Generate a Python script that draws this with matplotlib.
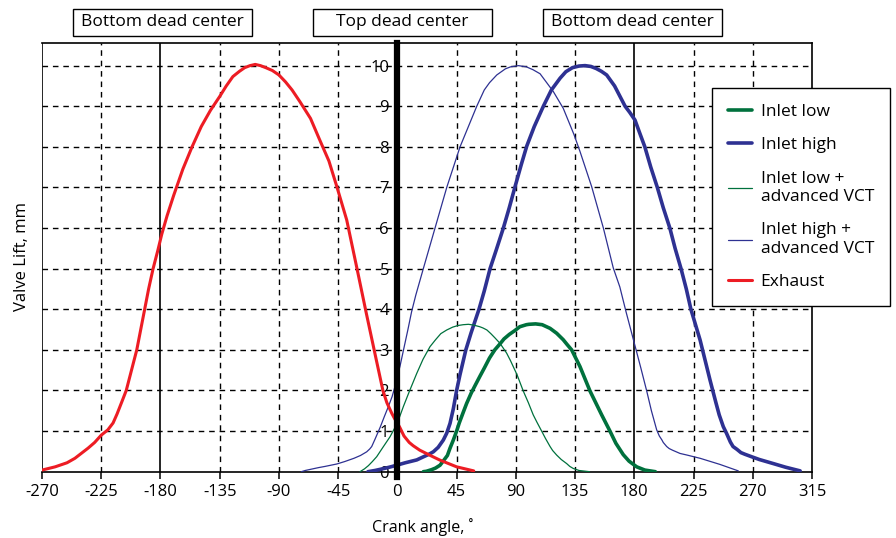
import matplotlib
matplotlib.use("Agg")
import matplotlib.pyplot as plt
from matplotlib.patches import Rectangle

plt.rcParams['font.family'] = ['Open Sans', 'DejaVu Sans']

# ---------------- data ----------------
exhaust_x = [-270, -260, -251, -245, -235, -230, -225, -220, -216, -213, -209, -206, -202,
             -198, -195, -192, -189, -185.6, -182, -179, -175, -170, -163, -156, -149, -142,
             -135, -130, -125, -120, -116, -112, -108, -104, -100, -95, -90, -85, -80, -74,
             -66, -59, -52, -46, -38.5, -31, -23.6, -16, -11, -8, -4.3, -2, 0, 2, 5, 9, 12,
             17, 25, 32, 45, 58]
exhaust_y = [0.04, 0.12, 0.22, 0.33, 0.58, 0.72, 0.9, 1.03, 1.2, 1.42, 1.75, 2.0, 2.5,
             3.0, 3.5, 4.0, 4.5, 5.0, 5.45, 5.85, 6.3, 6.8, 7.45, 8.0, 8.5, 8.9,
             9.24, 9.5, 9.73, 9.86, 9.95, 10.0, 10.03, 10.0, 9.95, 9.88, 9.77, 9.6, 9.4, 9.11,
             8.7, 8.17, 7.65, 7.02, 6.2, 5.05, 3.9, 2.75, 2.0, 1.7, 1.44, 1.3, 1.2, 1.08,
             0.88, 0.72, 0.64, 0.53, 0.4, 0.29, 0.12, 0.02]

high_vct_x = [-73, -70, -60, -55, -46, -40, -33, -28, -23.3, -21, -19.5, -17, -15, -13, -10,
              -6.9, -4, -1.8, 0, 2, 5, 8, 10.8, 14, 19.7, 28.6, 37.5, 47.6, 60.3, 66, 70,
              75.5, 82, 86, 92, 98, 103, 108.4, 113, 118.5, 126, 134.2, 138.8, 147.6, 156.5,
              164, 169, 173.7, 179.4, 185, 189.4, 193, 197, 199, 201, 202, 204.6, 206.5, 209,
              214.7, 220, 230, 245, 259]
high_vct_y = [0.0, 0.03, 0.1, 0.13, 0.19, 0.25, 0.33, 0.4, 0.49, 0.56, 0.62, 0.8, 0.95, 1.1,
              1.35, 1.6, 1.85, 2.1, 2.35, 2.6, 3.05, 3.5, 3.94, 4.35, 5.0, 6.0, 7.0, 8.0, 9.0,
              9.4, 9.58, 9.77, 9.92, 9.97, 10.0, 9.97, 9.9, 9.8, 9.6, 9.36, 8.95, 8.3, 7.88,
              7.02, 6.0, 5.02, 4.55, 3.94, 3.24, 2.55, 1.99, 1.5, 1.03, 0.88, 0.78, 0.72, 0.62,
              0.57, 0.53, 0.45, 0.41, 0.33, 0.18, 0.02]

high_x = [-22.4, -17, -10, -5, -0.5, 6, 14.7, 20, 24, 27.3, 31, 34.9, 37.5, 40, 42.5, 45,
          47.5, 52, 56, 62, 66, 70.4, 75, 80.5, 85, 89.4, 94, 98.3, 104, 110.9, 117, 123.6,
          128, 133, 138, 142.6, 147, 151, 155, 159, 165, 169, 173, 176.5, 180.5, 184, 188,
          192.5, 197.5, 202, 207, 211, 215.5, 219.5, 223, 230, 237.5, 242, 244.5, 247.6,
          250, 253, 255, 258, 261, 264, 269, 275, 285.6, 295, 306]
high_y = [0.0, 0.03, 0.08, 0.12, 0.16, 0.22, 0.29, 0.37, 0.43, 0.49, 0.6, 0.78, 0.95, 1.19,
          1.55, 2.0, 2.38, 3.0, 3.42, 4.0, 4.45, 5.0, 5.45, 6.0, 6.5, 7.02, 7.55, 8.02, 8.5,
          9.0, 9.4, 9.69, 9.85, 9.95, 9.99, 10.0, 9.98, 9.93, 9.86, 9.77, 9.5, 9.25, 9.0,
          8.85, 8.66, 8.35, 8.0, 7.5, 7.0, 6.5, 6.0, 5.5, 5.0, 4.5, 4.0, 3.24, 2.26, 1.7,
          1.4, 1.11, 0.95, 0.73, 0.62, 0.55, 0.47, 0.43, 0.37, 0.3, 0.2, 0.11, 0.02]

low_x = [19.7, 22, 26, 29, 32.4, 35, 38, 40, 42.5, 45, 47, 50, 52.6, 56, 59, 62.7, 66, 70,
         74, 78, 81, 85, 89, 93, 98, 100, 105, 110, 116, 121, 126, 129, 132.4, 138.7, 146.3,
         155.2, 161.5, 166, 171.6, 176, 181.8, 188, 196]
low_y = [0.0, 0.01, 0.05, 0.09, 0.16, 0.27, 0.4, 0.58, 0.78, 1.0, 1.2, 1.46, 1.68, 1.93,
         2.12, 2.35, 2.55, 2.8, 3.0, 3.15, 3.27, 3.38, 3.47, 3.57, 3.62, 3.63, 3.64, 3.62,
         3.53, 3.41, 3.25, 3.13, 3.0, 2.59, 1.99, 1.4, 1.0, 0.7, 0.42, 0.26, 0.12, 0.04, 0.0]

low_vct_x = [-28.4, -25, -22, -19, -15.7, -11, -5.6, 0, 4.5, 9, 14.7, 19.5, 24.8, 29, 33,
             37.5, 42, 46, 50, 54, 58, 62.6, 65, 68, 71, 74, 78, 83, 86, 88, 91, 95.6, 99.5,
             103.2, 106, 109.6, 112.5, 116, 118, 121, 124.5, 128.6, 131, 133.6, 138, 146]
low_vct_y = [0.0, 0.07, 0.15, 0.25, 0.37, 0.6, 0.86, 1.2, 1.6, 1.97, 2.42, 2.77, 3.08, 3.25,
             3.4, 3.49, 3.56, 3.6, 3.62, 3.63, 3.61, 3.57, 3.54, 3.49, 3.4, 3.3, 3.16, 2.92,
             2.73, 2.59, 2.38, 1.99, 1.7, 1.4, 1.22, 1.0, 0.82, 0.62, 0.52, 0.41, 0.3, 0.2,
             0.13, 0.08, 0.03, 0.0]

x_ticks = [-270, -225, -180, -135, -90, -45, 0, 45, 90, 135, 180, 225, 270, 315]
y_ticks = list(range(0, 11))
dashed_v = [-225, -135, -90, -45, 45, 90, 135, 225, 270]
solid_v = [-270, -180, 180]
box_labels = ["Bottom dead center", "Top dead center", "Bottom dead center"]

GREEN = '#00713d'
BLUE = '#2e3192'
RED = '#ed1c24'

# ---------------- figure ----------------
fig = plt.figure(figsize=(8.96, 5.38), dpi=100)
ax = fig.add_axes([42 / 896, 1 - 471.7 / 538, 770 / 896, (471.7 - 43.3) / 538])
ax.set_xlim(-270, 315)
ax.set_ylim(0, 10.55)

dash = (0, (4, 3.5))
for v in dashed_v:
    ax.axvline(v, color='black', lw=1.0, ls=dash, zorder=1)
for v in solid_v:
    ax.axvline(v, color='black', lw=1.2, zorder=1)
for h in y_ticks[1:]:
    ax.axhline(h, color='black', lw=1.0, ls=dash, zorder=1)

kw = dict(solid_joinstyle='round', solid_capstyle='round', zorder=3)
ax.plot(low_x, low_y, color=GREEN, lw=2.6, label='Inlet low', **kw)
ax.plot(high_x, high_y, color=BLUE, lw=2.6, label='Inlet high', **kw)
ax.plot(low_vct_x, low_vct_y, color=GREEN, lw=0.9, label='Inlet low +\nadvanced VCT', **kw)
ax.plot(high_vct_x, high_vct_y, color=BLUE, lw=0.9, label='Inlet high +\nadvanced VCT', **kw)
ax.plot(exhaust_x, exhaust_y, color=RED, lw=2.2, label='Exhaust', **kw)

# spines
ax.spines['left'].set_position(('data', 0))
ax.spines['left'].set_linewidth(4.5)
ax.spines['left'].set_zorder(4)
ax.spines['left'].set_bounds(-0.14, 10.55)
for s in ['top', 'right', 'bottom']:
    ax.spines[s].set_linewidth(1.2)

ax.set_xticks(x_ticks)
ax.set_xticklabels([str(t) for t in x_ticks])
ax.set_yticks(y_ticks)
ax.set_yticklabels([str(t) for t in y_ticks])
ax.tick_params(axis='x', direction='out', length=5, width=1.1, pad=4, labelsize=12)
ax.tick_params(axis='y', length=0, pad=6, labelsize=12)
for lbl in ax.get_yticklabels():
    lbl.set_zorder(5)

# axis titles
fig.text(22 / 896, 1 - 257 / 538, 'Valve Lift, mm', rotation=90, ha='center', va='center',
         fontsize=12)
fig.text(423 / 896, 1 - 527 / 538, 'Crank angle, \u02da', ha='center', va='center',
         fontsize=11.5)

# top labels
box_left = [73, 313, 543]
for bx, txt in zip(box_left, box_labels):
    fig.add_artist(Rectangle((bx / 896, 1 - 36 / 538), 179 / 896, 27 / 538,
                             transform=fig.transFigure, facecolor='white',
                             edgecolor='black', lw=1.0))
    fig.text((bx + 89.5) / 896, 1 - 22.5 / 538, txt, ha='center', va='center', fontsize=12.5)

leg = ax.legend(loc='upper left', bbox_to_anchor=(712 / 896, 1 - 88 / 538),
                bbox_transform=fig.transFigure, fontsize=12.5, frameon=True,
                fancybox=False, framealpha=1, edgecolor='black', handlelength=1.4,
                handletextpad=0.5, borderpad=0.9, labelspacing=1.0, borderaxespad=0)
leg.get_frame().set_linewidth(1.0)
leg.set_zorder(10)

fig.savefig('out.png', dpi=100)
